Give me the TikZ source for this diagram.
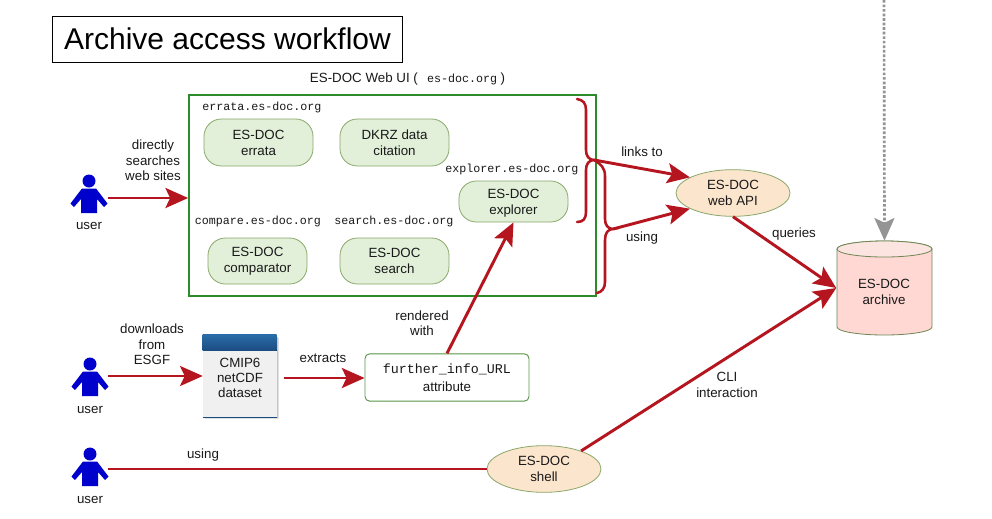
\documentclass[tikz,border=0pt]{standalone}
\usepackage{fontspec}
\setmainfont{Liberation Sans}
\newfontfamily\monof{Liberation Mono}
\usetikzlibrary{arrows.meta,shapes.geometric}
\definecolor{redline}{HTML}{B5151F}
\definecolor{pillfill}{HTML}{E2EFD9}
\definecolor{pilldraw}{HTML}{8AA86A}
\definecolor{ellfill}{HTML}{FCE5CD}
\definecolor{cylfill}{HTML}{FFD7D3}
\definecolor{cyltop}{HTML}{FCE4E0}
\definecolor{boxgreen}{HTML}{2C8C2C}
\definecolor{userblue}{HTML}{0000CC}
\definecolor{headtop}{HTML}{2A6CA8}
\definecolor{headbot}{HTML}{1B4C80}
\newcommand{\personfig}[2]{%
  \begin{scope}[shift={(#1,#2)}]
    \fill[userblue] (0,-17) circle[radius=6.5*.75pt];
    \fill[userblue,line join=round] (-7,-9.5) -- (7,-9.5) -- (18.5,5.5) -- (15,9) -- (8,1) -- (8,15) -- (-8,15) -- (-8,1) -- (-15,9) -- (-18.5,5.5) -- cycle;
  \end{scope}}
\tikzset{
  x=.75pt,y=-.75pt,
  every node/.style={font=\fontsize{10}{11.5}\selectfont,align=center,text=black!90,inner sep=0pt},
  lbl/.style={},
  urlbl/.style={font=\fontsize{8.75}{10}\monof},
  pill/.style n args={2}{draw=pilldraw,fill=pillfill,rounded corners=13pt,minimum width=#1*.75pt,minimum height=#2*.75pt,line width=.6pt,font=\fontsize{10}{12}\selectfont},
  oval/.style={ellipse,draw=pilldraw,fill=ellfill,minimum width=85.5pt,minimum height=35pt,line width=.6pt,font=\fontsize{10}{12}\selectfont},
  usernode/.style={minimum width=27pt,minimum height=36pt},
  flow/.style={draw=redline,line width=2.2pt,-{Stealth[length=17pt,width=15pt,inset=3.5pt,fill=redline]}},
  plainflow/.style={draw=redline,line width=2.2pt},
  brace/.style={draw=redline,line width=1.9pt,line cap=round}
}
\begin{document}
\begin{tikzpicture}
\useasboundingbox (0,0) rectangle (992,518);
\fill[white] (0,0) rectangle (992,518);

% title
\node[draw=black,line width=.7pt,minimum width=263pt,minimum height=34.5pt,font=\fontsize{22.5}{26}\selectfont,text=black] (title) at (227.5,39) {Archive access workflow};

% web UI box
\node[draw=boxgreen,line width=1.3pt,minimum width=305.25pt,minimum height=150.75pt] (webui) at (392.5,195.5) {};
\node (webuilbl) at (407.5,79) {ES-DOC Web UI (\hspace{.7em}{\fontsize{8.75}{10}\monof es-doc.org}\hspace{.25em})};

\node[urlbl] (l1) at (262,107) {errata.es-doc.org};
\node[urlbl] (l2) at (258,221) {compare.es-doc.org};
\node[urlbl] (l3) at (394,221) {search.es-doc.org};
\node[urlbl] (l4) at (512,169) {explorer.es-doc.org};

\node[pill={109}{47}] (errata) at (258.5,142.5) {ES-DOC\\errata};
\node[pill={109}{47}] (dkrz) at (394.5,142.5) {DKRZ data\\citation};
\node[pill={99}{46}] (comparator) at (257.5,261) {ES-DOC\\comparator};
\node[pill={109}{46}] (searchn) at (394.5,261) {ES-DOC\\search};
\node[pill={109}{41}] (explorer) at (513.5,201.5) {\rule{0pt}{9.6pt}ES-DOC\\explorer};

% users
\node[usernode] (u1) at (90,198) {};
\node[usernode] (u2) at (90,381) {};
\node[usernode] (u3) at (90,471) {};
\personfig{89}{198}
\personfig{90}{381}
\personfig{90}{471}
\node (ul1) at (89,226) {user};
\node (ul2) at (90,410) {user};
\node (ul3) at (90,500) {user};

% dataset
\fill[black!12] (205,338) rectangle (279,419);
\fill[black!22] (204,336.5) rectangle (278,418);
\node[rectangle,fill=black!6,minimum width=55.5pt,minimum height=61.5pt,font=\fontsize{10}{11.25}\selectfont] (data) at (240,376) {};
\node[font=\fontsize{10}{11.25}\selectfont] (datalbl) at (240,377.5) {CMIP6\\netCDF\\dataset};
\fill[top color=headtop,bottom color=headbot] (data.north west) rectangle ++(74,16);
\draw[headbot,line width=.8pt] (data.south west) -- (data.south east);

\node[draw=pilldraw!80!green!80!black,rounded corners=3.5pt,line width=.7pt,minimum width=123pt,minimum height=35.5pt,font=\fontsize{10}{13.5}\selectfont] (attr) at (447,377.5) {{\monof further\_info\_URL}\\attribute};

% ovals
\node[oval] (api) at (733,193) {ES-DOC\\web API};
\node[oval] (shell) at (544,469) {ES-DOC\\shell};

% archive
\node[minimum width=72pt,minimum height=70.5pt] (archive) at (884.5,288) {};
\draw[draw=pilldraw!80!black,line width=.6pt,fill=cylfill] (837,249) -- (837,327) arc[start angle=180,end angle=0,x radius=47.5,y radius=8] -- (932,249) arc[start angle=0,end angle=-180,x radius=47.5,y radius=8] -- cycle;
\draw[draw=pilldraw!80!black,line width=.6pt,fill=cyltop] (884.5,249) ellipse[x radius=47.5,y radius=8];
\node[font=\fontsize{10}{12}\selectfont] (archlbl) at (884,292) {ES-DOC\\archive};

% coordinates
\coordinate (dottop) at (884,0);
\coordinate (b1) at (594,160);
\coordinate (b2) at (613,229);

% braces
\draw[brace] (577,99) .. controls (583,100) and (586,103) .. (586,110) -- (586,150) .. controls (586,156) and (589,160) .. (b1) .. controls (589,160) and (586,164) .. (586,170) -- (586,212) .. controls (586,219) and (583,222) .. (577,222);
\draw[brace] (b1) .. controls (601,164) and (605,168) .. (605,176) -- (605,219) .. controls (605,225) and (608,229) .. (b2) .. controls (608,229) and (605,233) .. (605,240) -- (605,282) .. controls (605,288) and (602,292) .. (597,293);

% connectors
\draw[flow] (u1.east) -- (webui.west |- u1.east);
\draw[flow] (u2.east |- data.west) -- (data.west);
\draw[flow] (284,378) -- (attr.west |- 0,378);
\draw[flow] (attr.north) -- (explorer.south);
\draw[flow] (b1) -- (api.160);
\draw[flow] (b2) -- (api.200);
\draw[flow] (api.south) -- (archive.west);
\draw[flow] (shell.26) -- (archive.west);
\draw[plainflow] (u3.east |- shell.west) -- (shell.west);
\draw[draw=black!42,line width=2pt,dash pattern=on 2pt off 1.4pt,-{Stealth[length=17pt,width=15pt,inset=3.5pt,fill=black!42]}] (dottop) -- (archive.north);

% labels
\node[lbl] (t1) at (153,160.5) {directly\\searches\\web sites};
\node[lbl] (t2) at (152,344.5) {downloads\\from\\ESGF};
\node[lbl] (t3) at (323,358) {extracts};
\node[lbl] (t4) at (422,323) {rendered\\with};
\node[lbl] (t5) at (642,152) {links to};
\node[lbl] (t6) at (642,238) {using};
\node[lbl] (t7) at (794,234) {queries};
\node[lbl] (t8) at (727,385) {CLI\\interaction};
\node[lbl] (t9) at (203,455) {using};
\end{tikzpicture}
\end{document}
